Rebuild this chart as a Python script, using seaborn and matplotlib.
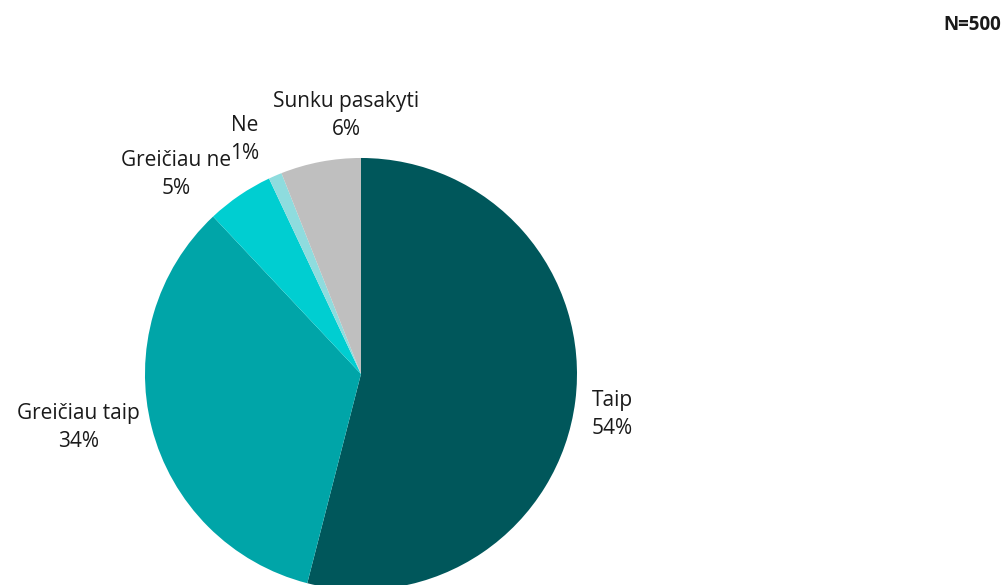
import numpy as np
import seaborn as sns
import matplotlib.pyplot as plt

# survey answers, in clockwise order starting at 12 o'clock
labels = ["Taip", "Greičiau taip", "Greičiau ne", "Ne", "Sunku pasakyti"]
shares = [54, 34, 5, 1, 6]
colors = ["#00575B", "#00A5A8", "#00CED1", "#8EDCDE", "#BFBFBF"]
sample_note = "N=500"

# label placement (distance from centre in radii, angle nudge in degrees)
label_dist = [1.18, 1.33, 1.26, 1.21, 1.20]
label_nudge = [-2.0, -3.6, 8.7, 3.0, -7.5]

sns.set_theme(style="white")
plt.rcParams["font.family"] = ["Open Sans", "DejaVu Sans"]

fig = plt.figure(figsize=(10.04, 5.85), dpi=100)
ax = fig.add_axes([0.1444, -0.00855, 0.4303, 0.7385])

wedges, _ = ax.pie(shares, colors=colors, startangle=90, counterclock=False,
                   wedgeprops=dict(linewidth=0, edgecolor="none"))
ax.set_xlim(-1, 1)
ax.set_ylim(-1, 1)
ax.set_aspect("equal")

for w, lab, val, d, nud in zip(wedges, labels, shares, label_dist, label_nudge):
    mid = np.deg2rad((w.theta1 + w.theta2) / 2 + nud)
    ax.text(d * np.cos(mid), d * np.sin(mid), f"{lab}\n{val}%",
            ha="center", va="center", fontsize=15, color="#1a1a1a",
            linespacing=1.45, clip_on=False)

fig.text(0.997, 0.957, sample_note, ha="right", va="center",
         fontsize=13.5, fontweight="bold", color="#1a1a1a")

fig.savefig("out.png", dpi=100)
